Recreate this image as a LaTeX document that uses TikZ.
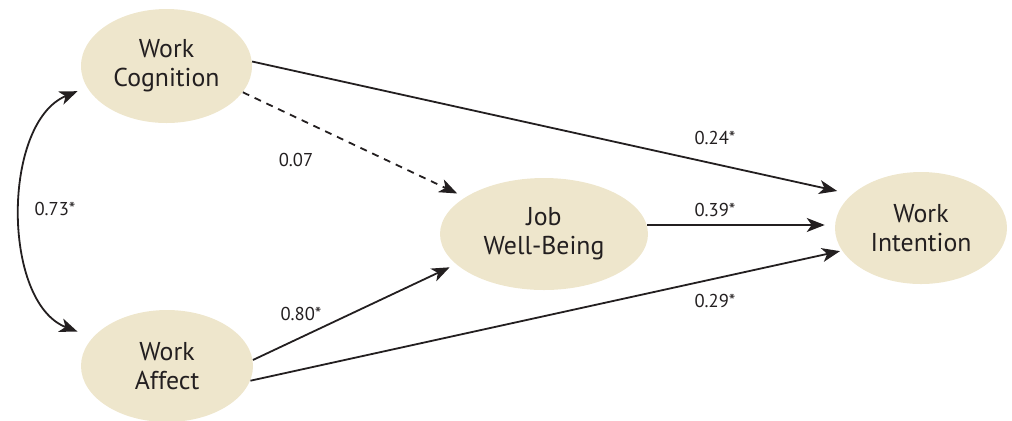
\documentclass[tikz,border=0pt]{standalone}
\usepackage{fontspec}
\setmainfont{PT Sans}
\usetikzlibrary{arrows.meta,shapes.geometric}
\definecolor{latentfill}{HTML}{EEE6CC}
\definecolor{inktext}{HTML}{231F20}
\tikzset{
	latent/.style={ellipse, fill=latentfill, text=inktext, align=center, inner sep=0pt,
		font=\fontsize{12.9}{14.5}\selectfont},
	effect/.style={line width=0.9pt, draw=inktext, -{Stealth[length=9pt,width=7pt,inset=2.5pt]}},
	coef/.style={text=inktext, inner sep=0pt, font=\fontsize{9.3}{11}\selectfont}
}

\begin{document}
\begin{tikzpicture}[x=0.5pt, y=-0.5pt]
			%%%%% START %%%%%
			\useasboundingbox (0, 0) rectangle (1012, 420);
			
			\node[latent, minimum width=85.5pt, minimum height=57pt] (cog) at (166.5, 66) {Work\\Cognition};
			\node[latent, minimum width=86pt, minimum height=56pt] (aff) at (167, 366) {Work\\Affect};
			\node[latent, minimum width=104pt, minimum height=56pt] (jwb) at (544, 234) {Job\\Well-Being};
			\node[latent, minimum width=86pt, minimum height=56pt] (wint) at (921, 228) {Work\\Intention};
			
			% correlation
			\draw[effect, {Stealth[length=9pt,width=7pt,inset=2.5pt]}-{Stealth[length=9pt,width=7pt,inset=2.5pt]},
				shorten <=5pt, shorten >=8pt]
				(cog.195) .. controls +(-85, 35) and +(-91, -35) .. (aff.159)
				node[pos=0.5, anchor=west, xshift=-2pt, yshift=1.5pt, fill=white, inner xsep=7pt, inner ysep=8pt,
					text=inktext, font=\fontsize{9.3}{11}\selectfont] (c73) {0.73*};
			
			% paths
			\draw[effect, shorten >=7.5pt] (cog.3) -- (wint.154);
			\draw[effect, dash pattern=on 3.5pt off 3pt, shorten >=4.3pt] (cog.-19) -- (jwb.155);
			\draw[effect, shorten >=5pt] (jwb.5) -- (wint.178);
			\draw[effect, shorten >=3.5pt] (aff.4) -- (jwb.199);
			\draw[effect, shorten >=1pt] (aff.-10) -- (wint.196);
			
			\node[coef] (c24) at (715, 138) {0.24*};
			\node[coef] (c07) at (296, 160) {0.07};
			\node[coef] (c39) at (715, 210) {0.39*};
			\node[coef] (c29) at (715, 301) {0.29*};
			\node[coef] (c80) at (301, 314) {0.80*};
			%%%%% END %%%%%
\end{tikzpicture}
\end{document}
